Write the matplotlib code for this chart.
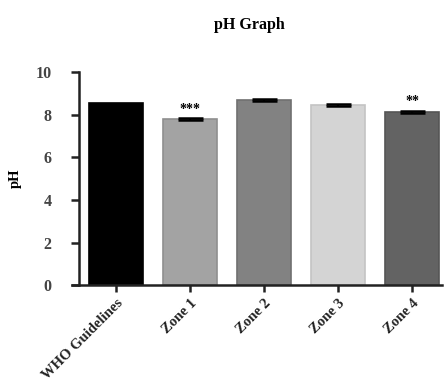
import matplotlib.pyplot as plt
import numpy as np

# data
groups = ['WHO Guidelines', 'Zone 1', 'Zone 2', 'Zone 3', 'Zone 4']
ph_mean = [8.55, 7.8, 8.7, 8.45, 8.15]
ph_err = [0.0, 0.06, 0.05, 0.05, 0.05]
stars = ['', '***', '', '', '**']
bar_colors = ['#000000', '#a3a3a3', '#828282', '#d4d4d4', '#636363']
edge_colors = ['#000000', '#8f8f8f', '#707070', '#c4c4c4', '#555555']

plt.rcParams['font.family'] = ['Liberation Serif', 'DejaVu Serif']
plt.rcParams['font.weight'] = 'bold'

fig = plt.figure(figsize=(4.46, 3.88), dpi=100)
ax = fig.add_axes([0.161, 0.265, 0.829, 0.549])

x = np.arange(len(groups))
ax.bar(x, ph_mean, width=0.73, color=bar_colors, edgecolor=edge_colors, linewidth=1.2, zorder=2)
ax.errorbar(x[1:], ph_mean[1:], yerr=ph_err[1:], fmt='none', ecolor='black',
            elinewidth=1.5, capsize=9, capthick=1.8, zorder=3)

for xi, m, e, s in zip(x, ph_mean, ph_err, stars):
    if s:
        ax.text(xi, m + e + 0.4, s, ha='center', va='center', fontsize=10, fontweight='bold')

ax.set_xlim(-0.6, 4.4)
ax.set_ylim(0, 10)
ax.set_yticks(np.arange(0, 11, 2))
ax.set_xticks(x)
ax.set_xticklabels(groups, rotation=45, ha='right', rotation_mode='anchor', fontsize=10.5)

ax.spines['left'].set_position(('data', -0.5))
ax.spines['left'].set_bounds(0, 10)
ax.spines['top'].set_visible(False)
ax.spines['right'].set_visible(False)
for sp in ['left', 'bottom']:
    ax.spines[sp].set_linewidth(1.8)
    ax.spines[sp].set_color('#222222')

ax.tick_params(axis='y', length=6, width=1.8, labelsize=11.5, pad=14, colors='#222222')
ax.tick_params(axis='x', length=5, width=1.8, pad=3, colors='#222222')
for lab in ax.get_yticklabels():
    lab.set_color('#444444')

ax.set_ylabel('pH', fontsize=10.5, fontweight='bold', labelpad=10)
fig.text(0.56, 0.935, 'pH Graph', ha='center', va='center', fontsize=11.5, fontweight='bold')

fig.savefig('out.png', dpi=100)
